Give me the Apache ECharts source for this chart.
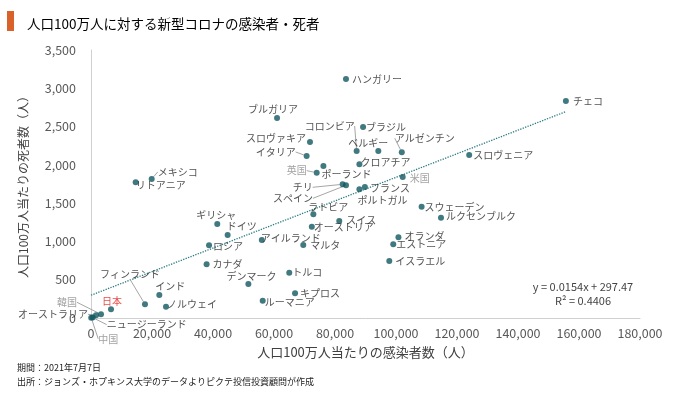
<!DOCTYPE html>
<html>
<head>
<meta charset="utf-8">
<script src="https://cdn.jsdelivr.net/npm/echarts@6/dist/echarts.min.js"></script>
<style>
html,body{margin:0;padding:0;background:#fff;}
#chart{width:680px;height:396px;}
</style>
</head>
<body>
<div id="chart"></div>
<script>
// ---- data ----
const countries = ['チェコ','ハンガリー','ブルガリア','ブラジル','スロヴァキア','コロンビア','ベルギー','アルゼンチン','イタリア','英国','ポーランド','クロアチア','米国','チリ','スペイン','フランス','ポルトガル','スロヴェニア','スウェーデン','ルクセンブルク','オランダ','エストニア','イスラエル','ラトビア','スイス','オーストリア','マルタ','トルコ','アイルランド','ロシア','カナダ','デンマーク','キプロス','ルーマニア','ドイツ','ギリシャ','メキシコ','リトアニア','フィンランド','インド','ノルウェイ','日本','韓国','オーストラリア','ニュージーランド','中国'];
const cases  = [155700,83600,61000,89200,71800,87100,94200,101900,70700,74000,76200,88000,102200,82500,83600,89800,88000,124000,108400,114750,100800,99100,97800,72900,81400,72400,69600,65000,56000,38700,37900,51600,66900,56300,44800,41400,19900,14650,17700,22400,24600,6560,3280,1640,550,70];
const deaths = [2834,3121,2612,2494,2299,2181,2181,2164,2116,1898,1985,2007,1841,1746,1733,1711,1681,2129,1454,1310,1054,962,744,1354,1267,1193,953,592,1019,949,701,444,322,226,1084,1228,1815,1772,179,300,148,113,48,35,5,3];
const xTicks = {min:0, max:180000, interval:20000};
const yTicks = {min:0, max:3500, interval:500};
const trendSlope = 0.0154, trendIntercept = 297.47;
const trendText = ['y = 0.0154x + 297.47', 'R² = 0.4406'];

// ---- label placement (style, not data): [dx, dy, leaderLine] ----
const labelPlace = {
 'チェコ':[22,0],'ハンガリー':[31,0],'ブルガリア':[-4,-9],'ブラジル':[23,0],'スロヴァキア':[-34,-4],
 'コロンビア':[-27,-25,1],'ベルギー':[-10,-8],'アルゼンチン':[23,-14,1],'イタリア':[-31,-4,1],'英国':[-20,-2,1],
 'ポーランド':[23,8],'クロアチア':[26,-2],'米国':[17,1],'チリ':[-40,3,1],'スペイン':[-53,13,1],
 'フランス':[25,1],'ポルトガル':[23,11],'スロヴェニア':[34,0],'スウェーデン':[33,1],'ルクセンブルク':[40,-1],
 'オランダ':[26,-1],'エストニア':[28,0],'イスラエル':[31,0],'ラトビア':[15,-7],'スイス':[22,-1],
 'オーストリア':[32,1],'マルタ':[22,0],'トルコ':[18,0],'アイルランド':[29,-2],'ロシア':[19,1],
 'カナダ':[21,0],'デンマーク':[3,-8],'キプロス':[25,0],'ルーマニア':[27,2],'ドイツ':[14,-9],
 'ギリシャ':[-1,-9],'メキシコ':[26,-7,1],'リトアニア':[25,3],'フィンランド':[-15,-30,1],'インド':[11,-9],
 'ノルウェイ':[26,-2],'日本':[1,-8],'韓国':[-34,-12,1],'オーストラリア':[-43,-1,1],'ニュージーランド':[54,7,1],'中国':[17,21,1]
};
const grayLabels = ['英国','米国','韓国','中国'];

const FONT = '"Noto Sans CJK JP", "Noto Sans", sans-serif';
const pointColor = '#10585f';

const scatterData = countries.map((n, i) => {
  const p = labelPlace[n] || [20, 0];
  const item = {
    name: n,
    value: [cases[i], deaths[i]],
    label: {
      position: 'inside',
      offset: [p[0], p[1]],
      color: n === '日本' ? '#e0201b' : (grayLabels.includes(n) ? '#8a8a8a' : '#262626')
    }
  };
  if (p[2]) item.labelLine = {show: true, lineStyle: {color: '#a6a6a6', width: 1}};
  return item;
});

const maxX = Math.max(...cases);
const trendData = [[0, trendIntercept], [maxX, trendSlope * maxX + trendIntercept]];

const chart = echarts.init(document.getElementById('chart'), null, {renderer: 'canvas'});
chart.setOption({
  animation: false,
  backgroundColor: '#fff',
  textStyle: {fontFamily: FONT},
  grid: {left: 91, right: 40, top: 50, bottom: 78, containLabel: false},
  title: {
    text: '人口100万人に対する新型コロナの感染者・死者',
    left: 22, top: 12,
    textStyle: {fontFamily: FONT, fontSize: 13.5, fontWeight: 'normal', color: '#000'}
  },
  graphic: [
    {type: 'rect', left: 7, top: 11, shape: {width: 7, height: 20}, style: {fill: '#d9622b'}},
    {type: 'text', left: 17, top: 363, style: {text: '期間：2021年7月7日', font: '9px ' + FONT, fill: '#222'}},
    {type: 'text', left: 17, top: 377, style: {text: '出所：ジョンズ・ホプキンス大学のデータよりピクテ投信投資顧問が作成', font: '9px ' + FONT, fill: '#222'}},
    {type: 'text', x: 583, y: 287, style: {text: trendText[0], font: '11px ' + FONT, fill: '#444', align: 'center', verticalAlign: 'middle'}},
    {type: 'text', x: 583, y: 301, style: {text: trendText[1], font: '11px ' + FONT, fill: '#444', align: 'center', verticalAlign: 'middle'}}
  ],
  xAxis: {
    type: 'value', min: xTicks.min, max: xTicks.max, interval: xTicks.interval,
    name: '人口100万人当たりの感染者数（人）', nameLocation: 'middle', nameGap: 28,
    nameTextStyle: {fontSize: 13, color: '#404040', fontFamily: FONT},
    axisLine: {show: true, lineStyle: {color: '#d0d0d0', width: 1}},
    axisTick: {show: false}, splitLine: {show: false},
    axisLabel: {fontSize: 12.5, color: '#595959', margin: 9, fontFamily: FONT}
  },
  yAxis: {
    type: 'value', min: yTicks.min, max: yTicks.max, interval: yTicks.interval,
    name: '人口100万人当たりの死者数（人）', nameLocation: 'middle', nameGap: 62, nameRotate: 90,
    nameTextStyle: {fontSize: 12, color: '#404040', fontFamily: FONT},
    axisLine: {show: true, lineStyle: {color: '#d0d0d0', width: 1}},
    axisTick: {show: false}, splitLine: {show: false},
    axisLabel: {fontSize: 12.5, color: '#595959', margin: 15, fontFamily: FONT}
  },
  series: [
    {
      type: 'line', data: trendData, symbol: 'none', silent: true, z: 1,
      lineStyle: {color: '#2a7c84', width: 1.3, type: [1.3, 1.3]}
    },
    {
      type: 'scatter', data: scatterData, symbolSize: 6, z: 3, clip: false,
      itemStyle: {color: pointColor},
      label: {show: true, formatter: '{b}', fontSize: 10, fontFamily: FONT, align: 'center', verticalAlign: 'middle'},
      labelLine: {show: false}
    }
  ]
});
</script>
</body>
</html>
